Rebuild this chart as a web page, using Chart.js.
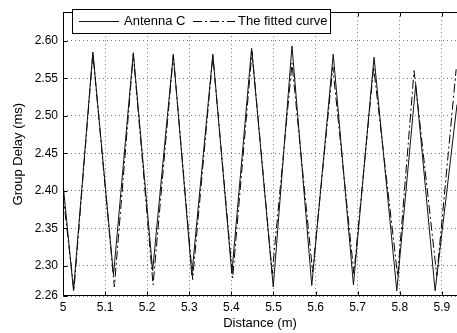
<!DOCTYPE html>
<html>
<head>
<meta charset="utf-8">
<script src="https://cdn.jsdelivr.net/npm/chart.js@4/dist/chart.umd.min.js"></script>
<style>
html,body{margin:0;padding:0;background:#fff;overflow:hidden;}
canvas{display:block;}
</style>
</head>
<body>
<canvas id="c" width="457" height="333"></canvas>
<script>
// ---- data ----
const seriesNames = ['Antenna C', 'The fitted curve'];
const antennaX = [5.000, 5.025, 5.071, 5.120, 5.167, 5.213, 5.262, 5.306, 5.356, 5.401, 5.448, 5.4995, 5.544, 5.591, 5.642, 5.690, 5.739, 5.793, 5.838, 5.884, 5.936];
const antennaY = [2.410, 2.267, 2.585, 2.288, 2.584, 2.294, 2.582, 2.288, 2.582, 2.290, 2.590, 2.272, 2.593, 2.274, 2.582, 2.275, 2.578, 2.267, 2.542, 2.267, 2.515];
const fitX = [5.000, 5.026, 5.071, 5.122, 5.167, 5.214, 5.262, 5.308, 5.356, 5.403, 5.449, 5.497, 5.544, 5.593, 5.641, 5.691, 5.738, 5.795, 5.834, 5.888, 5.934];
const fitY = [2.395, 2.268, 2.583, 2.272, 2.582, 2.275, 2.580, 2.282, 2.580, 2.284, 2.586, 2.290, 2.570, 2.292, 2.565, 2.290, 2.565, 2.287, 2.560, 2.287, 2.562];
const xTicks = [5.0, 5.1, 5.2, 5.3, 5.4, 5.5, 5.6, 5.7, 5.8, 5.9];
const yTicks = [2.26, 2.30, 2.35, 2.40, 2.45, 2.50, 2.55, 2.60];
const xTitle = 'Distance (m)';
const yTitle = 'Group Delay (ms)';

const FONT = "'Liberation Sans', Arial, Helvetica, sans-serif";
const DASHDOT = [9, 3, 2, 3];

const framePlugin = {
  id: 'frame',
  afterDatasetsDraw(chart) {
    const {ctx, chartArea: a, scales: {x, y}} = chart;
    ctx.save();
    ctx.strokeStyle = '#000';
    ctx.lineWidth = 1;
    ctx.setLineDash([]);
    const L = Math.round(a.left) + 0.5, T = Math.round(a.top) + 0.5, B = Math.round(a.bottom) - 0.5, R = a.right + 2;
    ctx.beginPath();
    ctx.moveTo(R, T); ctx.lineTo(L, T); ctx.lineTo(L, B); ctx.lineTo(R, B);
    ctx.stroke();
    // inward ticks
    ctx.beginPath();
    xTicks.forEach(v => {
      const px = Math.round(x.getPixelForValue(v)) + 0.5;
      ctx.moveTo(px, B); ctx.lineTo(px, B - 4);
      ctx.moveTo(px, T); ctx.lineTo(px, T + 4);
    });
    yTicks.forEach(v => {
      const py = Math.round(y.getPixelForValue(v)) + 0.5;
      ctx.moveTo(L, py); ctx.lineTo(L + 4, py);
    });
    ctx.stroke();
    // legend box
    const bx = 72.5, by = 9.5, bw = 258, bh = 24, cy = 21.5;
    ctx.fillStyle = '#fff';
    ctx.fillRect(bx, by, bw, bh);
    ctx.strokeRect(bx, by, bw, bh);
    const items = [
      {x0: 79, x1: 119, tx: 124, ds: chart.data.datasets[0]},
      {x0: 193, x1: 235, tx: 238, ds: chart.data.datasets[1]}
    ];
    items.forEach(it => {
      ctx.save();
      ctx.strokeStyle = it.ds.borderColor;
      ctx.lineWidth = 1;
      ctx.setLineDash(it.ds.borderDash || []);
      ctx.beginPath();
      ctx.moveTo(it.x0, cy); ctx.lineTo(it.x1, cy);
      ctx.stroke();
      ctx.restore();
      ctx.fillStyle = '#000';
      ctx.font = '13px ' + FONT;
      ctx.textBaseline = 'middle';
      ctx.textAlign = 'left';
      ctx.fillText(it.ds.label, it.tx, cy);
    });
    ctx.restore();
  }
};

new Chart(document.getElementById('c'), {
  type: 'line',
  data: {
    datasets: [
      {label: seriesNames[0], data: antennaX.map((v, i) => ({x: v, y: antennaY[i]})),
       borderColor: '#111', borderWidth: 1, pointRadius: 0, tension: 0, fill: false},
      {label: seriesNames[1], data: fitX.map((v, i) => ({x: v, y: fitY[i]})),
       borderColor: '#000', borderWidth: 1, borderDash: DASHDOT, pointRadius: 0, tension: 0, fill: false}
    ]
  },
  options: {
    responsive: false,
    animation: false,
    devicePixelRatio: 1,
    layout: {padding: {top: 7, right: 0, left: 0, bottom: 0}},
    plugins: {legend: {display: false}, tooltip: {enabled: false}},
    scales: {
      x: {
        type: 'linear', min: 5.0, max: 5.936,
        afterBuildTicks: s => { s.ticks = xTicks.map(v => ({value: v})); },
        afterFit: s => { s.height = 37; },
        ticks: {callback: v => (Math.abs(v - 5) < 1e-9 ? '5' : v.toFixed(1)), font: {family: FONT, size: 12}, color: '#000', padding: 4, maxRotation: 0, autoSkip: false},
        grid: {drawTicks: false, color: '#777', lineWidth: 1},
        border: {display: false, dash: [1, 3]},
        title: {display: true, text: xTitle, font: {family: FONT, size: 13}, color: '#000', padding: {top: 0, bottom: 2}}
      },
      y: {
        type: 'linear', min: 2.26, max: 2.638,
        afterBuildTicks: s => { s.ticks = yTicks.map(v => ({value: v})); },
        afterFit: s => { s.width = 63; },
        ticks: {callback: v => v.toFixed(2), font: {family: FONT, size: 12}, color: '#000', padding: 5, autoSkip: false},
        grid: {drawTicks: false, color: '#777', lineWidth: 1},
        border: {display: false, dash: [1, 3]},
        title: {display: true, text: yTitle, font: {family: FONT, size: 13}, color: '#000', padding: {top: 11, bottom: 0}}
      }
    }
  },
  plugins: [framePlugin]
});
</script>
</body>
</html>
